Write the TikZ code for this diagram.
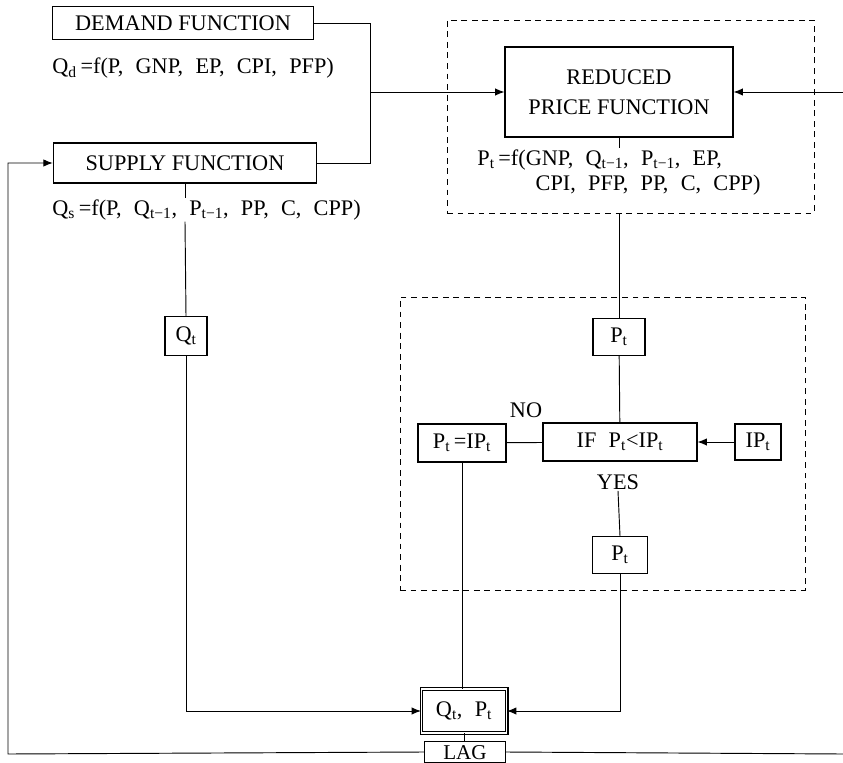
\documentclass[tikz,border=0pt]{standalone}
\usepackage{fontspec}
\setmainfont{Liberation Serif}
\usetikzlibrary{arrows.meta, positioning, calc}
\newcommand{\sbs}[1]{\textsubscript{#1}}
\newcommand{\lagsub}{t\textminus1}
\newcommand{\gap}{\hspace{0.55em}}
\tikzset{
  flowbox/.style={draw, line width=0.9pt, inner sep=2pt, align=center},
  framebox/.style={draw, dashed, line width=0.8pt, dash pattern=on 5pt off 4pt},
  flowline/.style={line width=0.8pt},
  flowarrow/.style={line width=0.8pt, -{Latex[length=2.8mm, width=2.2mm]}},
  eqtext/.style={inner sep=1pt, align=left}
}

\begin{document}
\begin{tikzpicture}[x=0.03cm, y=-0.03cm, font=\fontsize{19}{26}\selectfont]
  \useasboundingbox (0,0) rectangle (843,763);
  % left column
  \node[flowbox, minimum width=7.83cm, minimum height=1cm]
    (demand) at (183,23) {DEMAND FUNCTION};
  \node[eqtext, anchor=west] (qd) at (51,68)
    {Q\sbs{d}\,=f(P,\gap GNP,\gap EP,\gap CPI,\gap PFP)};
  \node[flowbox, minimum width=7.9cm, minimum height=1.2cm]
    (supply) at (185,163) {SUPPLY FUNCTION};
  \node[eqtext, anchor=west] (qs) at (51,210)
    {Q\sbs{s}\,=f(P,\gap Q\sbs{\lagsub},\gap P\sbs{\lagsub},\gap PP,\gap C,\gap CPP)};
  \node[flowbox, minimum width=1.26cm, minimum height=1.17cm]
    (qt) at (186,336) {Q\sbs{t}};
  % upper frame
  \node[framebox, minimum width=11.01cm, minimum height=5.79cm]
    (upframe) at (630.5,116.5) {};
  \node[flowbox, minimum width=6.84cm, minimum height=2.7cm]
    (reduced) at (619,92) {REDUCED\\PRICE FUNCTION};
  \node[eqtext, anchor=north west] (pf) at (476,148)
    {P\sbs{t}\,=f(GNP,\gap Q\sbs{\lagsub},\gap P\sbs{\lagsub},\gap EP,\\[-4pt]
     \hspace*{1.75cm}CPI,\gap PFP,\gap PP,\gap C,\gap CPP)};
  % lower frame
  \node[framebox, minimum width=12.15cm, minimum height=8.79cm]
    (lowframe) at (602.5,443.5) {};
  \node[flowbox, minimum width=1.56cm, minimum height=1.11cm]
    (pttop) at (619,337) {P\sbs{t}};
  \node[flowbox, minimum width=4.62cm, minimum height=1.14cm]
    (ifbox) at (620,442) {IF\gap P\sbs{t}<IP\sbs{t}};
  \node[flowbox, minimum width=1.38cm, minimum height=1.08cm]
    (ipt) at (758,442) {IP\sbs{t}};
  \node[flowbox, minimum width=2.64cm, minimum height=1.14cm]
    (pteq) at (462,443) {P\sbs{t}\,=IP\sbs{t}};
  \node[inner sep=1pt] (no) at (526,410) {NO};
  \node[inner sep=1pt] (yes) at (618,482) {YES};
  \node[flowbox, minimum width=1.65cm, minimum height=1.11cm]
    (ptlow) at (620,555) {P\sbs{t}};
  % bottom
  \node[flowbox, double, double distance=1.6pt, minimum width=2.55cm, minimum height=1.3cm]
    (qp) at (464,711) {Q\sbs{t},\gap P\sbs{t}};
  \node[flowbox, minimum width=2.43cm, minimum height=0.63cm, inner sep=0pt,
        text height=12pt, text depth=0pt, font=\fontsize{18}{20}\selectfont]
    (lag) at (465,752) {LAG};
  \coordinate (join) at (370,92);
  \coordinate (pricein) at (843,92);
  \coordinate (back) at (8,754);
  \coordinate (lagout) at (843,754);
  % connectors
  \draw[flowline] (demand.east) -| (join);
  \draw[flowline] (supply.east) -| (join);
  \draw[flowarrow] (join) -- (reduced.west);
  \draw[flowarrow] (pricein) -- (reduced.east);
  \draw[flowline] (reduced.south) -- (reduced.south |- pf.north);
  \draw[flowline] (pttop.north |- upframe.south) -- (pttop.north);
  \draw[flowline] (pttop) -- (ifbox);
  \draw[flowline] (ifbox) -- (pteq);
  \draw[flowarrow] (ipt) -- (ifbox);
  \draw[flowline] (yes.south) -- (ptlow.north);
  \draw[flowline] (supply.south) -- (supply.south |- qs.north);
  \draw[flowline] (supply.south |- qs.south) -- (qt.north);
  \draw[flowarrow] (qt.south) |- (qp.west);
  \draw[flowarrow] (ptlow.south) |- (qp.east);
  \draw[flowline] (pteq.south) -- (pteq.south |- qp.north);
  \draw[flowline] (qp.south) -- (qp.south |- lag.north);
  \draw[flowarrow] (lag.west) -- (back) |- (supply.west);
  \draw[flowline] (lag.east) -- (lagout);
\end{tikzpicture}
\end{document}
